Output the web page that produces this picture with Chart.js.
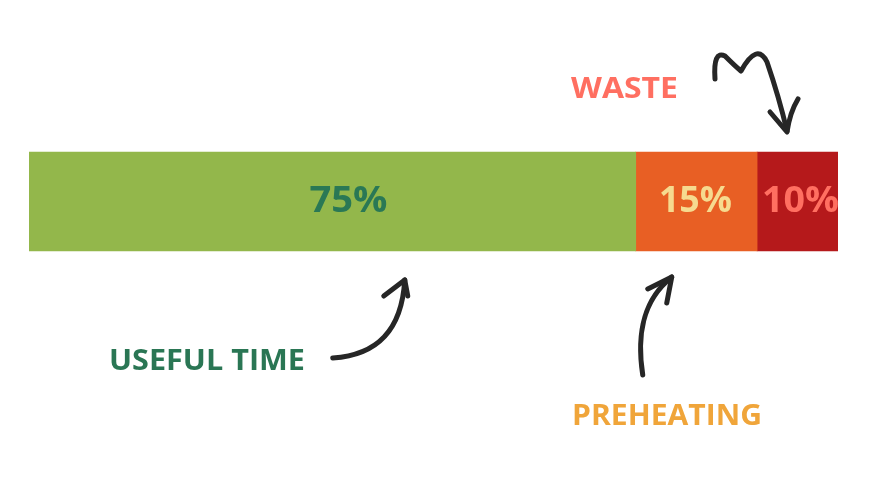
<!DOCTYPE html>
<html>
<head>
<meta charset="utf-8">
<script src="https://cdn.jsdelivr.net/npm/chart.js@4"></script>
<style>
  html, body { margin: 0; padding: 0; background: #ffffff; }
  #wrap { width: 881px; height: 479px; }
</style>
</head>
<body>
<div id="wrap"><canvas id="timeChart" width="881" height="479"></canvas></div>
<script>
// ---- data ----
const categories = ['Oven time'];
const segmentNames = ['USEFUL TIME', 'PREHEATING', 'WASTE'];
const segmentValues = [75, 15, 10];
const segmentColors = ['#93b74b', '#e85f24', '#b5191b'];
const valueLabelColors = ['#2a7855', '#f6da8f', '#ff6f61'];
const nameLabelColors = ['#2a7654', '#f0a53a', '#ff6f61'];

const FONT = '"Open Sans", "Noto Sans", sans-serif';
const INK = '#262626';

// draw text stretched to a given width (the original uses a wide geometric face)
function fitText(ctx, text, x, y, width, align) {
  const w = ctx.measureText(text).width;
  const k = width / w;
  ctx.save();
  ctx.textAlign = 'left';
  const left = align === 'center' ? x - width / 2 : x;
  ctx.translate(left, y);
  ctx.scale(k, 1);
  ctx.fillText(text, 0, 0);
  ctx.restore();
}

// labels inside each segment
const labelWidths = [78, 73, 77];
const labelShift = [16, -1, 3];
const segmentLabels = {
  id: 'segmentLabels',
  afterDatasetsDraw(chart) {
    const ctx = chart.ctx;
    ctx.save();
    ctx.font = '700 36px ' + FONT;
    ctx.textBaseline = 'middle';
    chart.data.datasets.forEach((ds, i) => {
      const bar = chart.getDatasetMeta(i).data[0];
      const cx = (bar.base + bar.x) / 2 + labelShift[i];
      ctx.fillStyle = valueLabelColors[i];
      fitText(ctx, ds.data[0] + '%', cx, bar.y, labelWidths[i], 'center');
    });
    ctx.restore();
  }
};

// hand-drawn style call-outs, placed relative to the bars
function poly(ctx, pts) {
  ctx.beginPath();
  ctx.moveTo(pts[0][0], pts[0][1]);
  for (let i = 1; i < pts.length; i++) ctx.lineTo(pts[i][0], pts[i][1]);
  ctx.stroke();
}
function bez(ctx, p) {
  ctx.beginPath();
  ctx.moveTo(p[0][0], p[0][1]);
  ctx.bezierCurveTo(p[1][0], p[1][1], p[2][0], p[2][1], p[3][0], p[3][1]);
  ctx.stroke();
}

const callouts = {
  id: 'callouts',
  afterDraw(chart) {
    const ctx = chart.ctx;
    const bars = chart.data.datasets.map((ds, i) => chart.getDatasetMeta(i).data[0]);
    const top = bars[0].y - bars[0].height / 2;
    const bottom = bars[0].y + bars[0].height / 2;
    ctx.save();
    ctx.strokeStyle = INK;
    ctx.fillStyle = INK;
    ctx.lineWidth = 5;
    ctx.lineCap = 'round';
    ctx.lineJoin = 'round';

    // useful time arrow
    let ax = bars[0].x - 231, ay = bottom;
    bez(ctx, [[ax - 72, ay + 107], [ax - 28, ay + 104], [ax - 3, ay + 80], [ax, ay + 29]]);
    poly(ctx, [[ax - 21, ay + 45], [ax, ay + 29], [ax + 3, ay + 45]]);

    // preheating arrow
    ax = bars[1].base + 36;
    bez(ctx, [[ax - 29, ay + 124], [ax - 35, ay + 85], [ax - 30, ay + 50], [ax, ay + 26]]);
    poly(ctx, [[ax - 24, ay + 38], [ax, ay + 26], [ax - 5, ay + 52]]);

    // waste squiggle arrow
    ax = bars[2].x - 51; ay = top;
    ctx.beginPath();
    ctx.moveTo(ax - 72, ay - 73);
    ctx.quadraticCurveTo(ax - 74, ay - 102, ax - 62, ay - 96);
    ctx.quadraticCurveTo(ax - 52, ay - 86, ax - 46, ay - 81);
    ctx.quadraticCurveTo(ax - 30, ay - 110, ax - 20, ay - 90);
    ctx.quadraticCurveTo(ax - 8, ay - 55, ax, ay - 21);
    ctx.stroke();
    ctx.beginPath();
    ctx.moveTo(ax - 17, ay - 40);
    ctx.lineTo(ax, ay - 20);
    ctx.quadraticCurveTo(ax + 3, ay - 40, ax + 11, ay - 53);
    ctx.stroke();

    // names
    ctx.font = '700 28px ' + FONT;
    ctx.textBaseline = 'middle';
    ctx.fillStyle = nameLabelColors[0];
    fitText(ctx, segmentNames[0], 109, bottom + 111, 196, 'left');
    ctx.fillStyle = nameLabelColors[1];
    fitText(ctx, segmentNames[1], 572, bottom + 166, 190, 'left');
    ctx.fillStyle = nameLabelColors[2];
    fitText(ctx, segmentNames[2], 571, top - 62, 107, 'left');
    ctx.restore();
  }
};

new Chart(document.getElementById('timeChart'), {
  type: 'bar',
  data: {
    labels: categories,
    datasets: segmentNames.map((name, i) => ({
      label: name,
      data: [segmentValues[i]],
      backgroundColor: segmentColors[i],
      borderWidth: 0,
      barThickness: 99
    }))
  },
  options: {
    indexAxis: 'y',
    responsive: false,
    animation: false,
    layout: { padding: { left: 29, right: 43, top: 100, bottom: 176 } },
    plugins: {
      legend: { display: false },
      tooltip: { enabled: false }
    },
    scales: {
      x: { stacked: true, min: 0, max: 100, display: false },
      y: { stacked: true, display: false }
    }
  },
  plugins: [segmentLabels, callouts]
});
</script>
</body>
</html>
